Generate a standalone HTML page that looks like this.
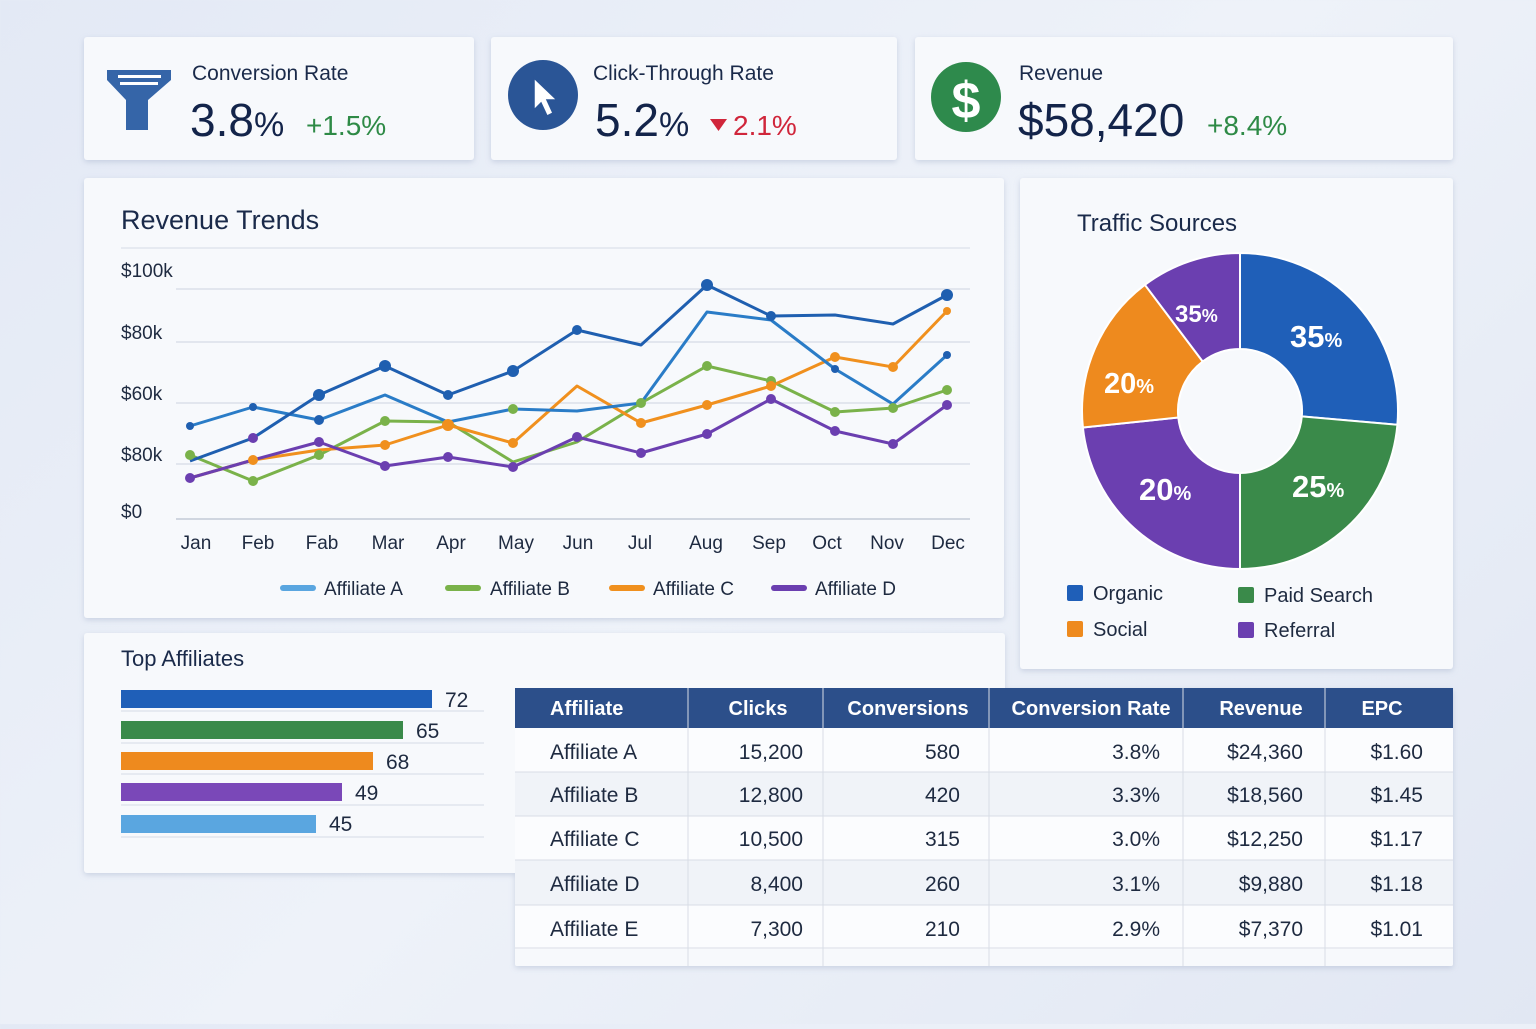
<!DOCTYPE html>
<html><head><meta charset="utf-8"><style>
body{margin:0;width:1536px;height:1024px;overflow:hidden;background:linear-gradient(135deg,#e3e9f5,#eef2f9 50%,#e1e7f3);font-family:"Liberation Sans",sans-serif}
svg text{font-family:"Liberation Sans",sans-serif}
</style></head><body>
<svg width="1536" height="1024" viewBox="0 0 1536 1024" xmlns="http://www.w3.org/2000/svg">
<defs><filter id="sh" x="-5%" y="-5%" width="110%" height="115%"><feDropShadow dx="0" dy="2" stdDeviation="3" flood-color="#8a9bbb" flood-opacity="0.35"/></filter></defs>
<g filter="url(#sh)" fill="#f7f9fc">
<rect x="84" y="37" width="390" height="123" rx="3"/>
<rect x="491" y="37" width="406" height="123" rx="3"/>
<rect x="915" y="37" width="538" height="123" rx="3"/>
<rect x="84" y="178" width="920" height="440" rx="3"/>
<rect x="1020" y="178" width="433" height="491" rx="3"/>
<rect x="84" y="633" width="921" height="240" rx="3"/>
<rect x="515" y="688" width="938" height="278" rx="2"/>
</g>
<!-- KPI 1 -->
<path d="M107 70 H171 V80 L148 100 V130 H126 V100 L107 80Z" fill="#3565a8"/>
<rect x="118" y="75" width="43" height="3" fill="#fff"/><rect x="120" y="82" width="38" height="3" fill="#fff"/>
<text x="192" y="80" font-size="21" fill="#1a2a4a">Conversion Rate</text>
<text x="190" y="136" font-size="46" fill="#13244a">3.8<tspan font-size="34">%</tspan></text>
<text x="306" y="135" font-size="28" fill="#2e8a46">+1.5%</text>
<!-- KPI 2 -->
<circle cx="543" cy="95" r="35" fill="#2a5596"/>
<path d="M534 78 L534 110 L541 103 L547 116 L553 113 L547 100 L557 100Z" fill="#fff" stroke="#2a5596" stroke-width="1.5"/>
<text x="593" y="80" font-size="21" fill="#1a2a4a">Click-Through Rate</text>
<text x="595" y="136" font-size="46" fill="#13244a">5.2<tspan font-size="34">%</tspan></text>
<path d="M710 119 H727 L718.5 131Z" fill="#d0263b"/>
<text x="733" y="135" font-size="28" fill="#d0263b">2.1%</text>
<!-- KPI 3 -->
<circle cx="966" cy="97" r="35" fill="#2e8a4c"/>
<text x="966" y="118" font-size="52" font-weight="bold" fill="#fff" text-anchor="middle">$</text>
<text x="1019" y="80" font-size="21" fill="#1a2a4a">Revenue</text>
<text x="1018" y="136" font-size="46" fill="#13244a">$58,420</text>
<text x="1207" y="135" font-size="28" fill="#2e8a46">+8.4%</text>
<!-- Revenue Trends -->
<text x="121" y="229" font-size="27" fill="#1a2a4a">Revenue Trends</text>
<line x1="121" y1="248" x2="970" y2="248" stroke="#d5dbe6"/>
<g stroke="#d5dbe6" stroke-width="1.2">
<line x1="176" y1="289" x2="970" y2="289"/><line x1="176" y1="342" x2="970" y2="342"/>
<line x1="176" y1="403" x2="970" y2="403"/><line x1="176" y1="464" x2="970" y2="464"/>
<line x1="176" y1="519" x2="970" y2="519" stroke="#b9c1d0"/></g>
<g font-size="19" fill="#1e2a40">
<text x="121" y="277">$100k</text><text x="121" y="339">$80k</text><text x="121" y="400">$60k</text><text x="121" y="461">$80k</text><text x="121" y="518">$0</text></g>
<g font-size="19" fill="#1e2a40" text-anchor="middle">
<text x="196" y="549">Jan</text><text x="258" y="549">Feb</text><text x="322" y="549">Fab</text><text x="388" y="549">Mar</text><text x="451" y="549">Apr</text><text x="516" y="549">May</text><text x="578" y="549">Jun</text><text x="640" y="549">Jul</text><text x="706" y="549">Aug</text><text x="769" y="549">Sep</text><text x="827" y="549">Oct</text><text x="887" y="549">Nov</text><text x="948" y="549">Dec</text></g>
<g fill="none" stroke-width="3" stroke-linejoin="round">
<polyline stroke="#7ab24a" points="190,455 253,481 319,455 385,421 448,422 513,462 577,442 641,403 707,366 771,381 835,412 893,408 947,390"/>
<polyline stroke="#f0901e" points="190,478 253,460 319,450 385,445 448,425 513,443 577,386 641,423 707,405 771,386 835,357 893,367 947,311"/>
<polyline stroke="#6b3fb0" points="190,478 253,460 319,442 385,466 448,457 513,467 577,437 641,453 707,434 771,399 835,431 893,444 947,405"/>
<polyline stroke="#2a7cc7" points="190,426 253,407 319,420 385,395 448,422 513,409 577,411 641,403 707,312 771,320 835,369 893,404 947,355"/>
<polyline stroke="#1f5fb0" points="190,461 253,438 319,395 385,366 448,395 513,371 577,330 641,345 707,285 771,316 835,315 893,324 947,295"/>
</g>
<g fill="#7ab24a"><circle cx="190" cy="455" r="5"/><circle cx="253" cy="481" r="5"/><circle cx="319" cy="455" r="5"/><circle cx="385" cy="421" r="5"/><circle cx="641" cy="403" r="5"/><circle cx="707" cy="366" r="5"/><circle cx="771" cy="381" r="5"/><circle cx="835" cy="412" r="5"/><circle cx="893" cy="408" r="5"/><circle cx="947" cy="390" r="5"/><circle cx="513" cy="409" r="5"/></g>
<g fill="#f0901e"><circle cx="253" cy="460" r="5"/><circle cx="385" cy="445" r="5"/><circle cx="448" cy="425" r="6"/><circle cx="513" cy="443" r="5"/><circle cx="641" cy="423" r="5"/><circle cx="707" cy="405" r="5"/><circle cx="771" cy="386" r="5"/><circle cx="835" cy="357" r="5"/><circle cx="893" cy="367" r="5"/><circle cx="947" cy="311" r="4"/></g>
<g fill="#6b3fb0"><circle cx="190" cy="478" r="5"/><circle cx="253" cy="438" r="5"/><circle cx="319" cy="442" r="5"/><circle cx="385" cy="466" r="5"/><circle cx="448" cy="457" r="5"/><circle cx="513" cy="467" r="5"/><circle cx="577" cy="437" r="5"/><circle cx="641" cy="453" r="5"/><circle cx="707" cy="434" r="5"/><circle cx="771" cy="399" r="5"/><circle cx="835" cy="431" r="5"/><circle cx="893" cy="444" r="5"/><circle cx="947" cy="405" r="5"/></g>
<g fill="#1f5fb0"><circle cx="319" cy="395" r="6"/><circle cx="385" cy="366" r="6"/><circle cx="448" cy="395" r="5"/><circle cx="513" cy="371" r="6"/><circle cx="577" cy="330" r="5"/><circle cx="707" cy="285" r="6"/><circle cx="771" cy="316" r="5"/><circle cx="947" cy="295" r="6"/><circle cx="190" cy="426" r="4"/><circle cx="253" cy="407" r="4"/><circle cx="319" cy="420" r="5"/><circle cx="835" cy="369" r="4"/><circle cx="947" cy="355" r="4"/></g>
<g font-size="19" fill="#1e2a40">
<rect x="280" y="585" width="36" height="6" rx="3" fill="#5aa6e0"/><text x="324" y="595">Affiliate A</text>
<rect x="445" y="585" width="36" height="6" rx="3" fill="#7ab24a"/><text x="490" y="595">Affiliate B</text>
<rect x="609" y="585" width="36" height="6" rx="3" fill="#f0901e"/><text x="653" y="595">Affiliate C</text>
<rect x="771" y="585" width="36" height="6" rx="3" fill="#6b3fb0"/><text x="815" y="595">Affiliate D</text></g>
<!-- Traffic -->
<text x="1077" y="231" font-size="24" fill="#1a2a4a">Traffic Sources</text>
<g stroke="#fff" stroke-width="2">
<path d="M1240 253 A158 158 0 0 1 1397.4 424.8 L1301.8 416.4 A62 62 0 0 0 1240 349Z" fill="#1f5fb8"/>
<path d="M1397.4 424.8 A158 158 0 0 1 1240 569 L1240 473 A62 62 0 0 0 1301.8 416.4Z" fill="#3a8a4a"/>
<path d="M1240 569 A158 158 0 0 1 1082.9 427.5 L1178.3 417.5 A62 62 0 0 0 1240 473Z" fill="#6b3fb0"/>
<path d="M1082.9 427.5 A158 158 0 0 1 1144.9 284.8 L1202.7 361.5 A62 62 0 0 0 1178.3 417.5Z" fill="#ee8a1e"/>
<path d="M1144.9 284.8 A158 158 0 0 1 1240 253 L1240 349 A62 62 0 0 0 1202.7 361.5Z" fill="#6b3fb0"/>
</g>
<g fill="#fff" font-weight="bold">
<text x="1175" y="322" font-size="24">35<tspan font-size="18">%</tspan></text>
<text x="1290" y="347" font-size="31">35<tspan font-size="20">%</tspan></text>
<text x="1292" y="497" font-size="31">25<tspan font-size="20">%</tspan></text>
<text x="1139" y="500" font-size="31">20<tspan font-size="20">%</tspan></text>
<text x="1104" y="393" font-size="29">20<tspan font-size="20">%</tspan></text></g>
<g font-size="20" fill="#1e2a40">
<rect x="1067" y="585" width="16" height="16" rx="2" fill="#1f5fb8"/><text x="1093" y="600">Organic</text>
<rect x="1238" y="587" width="16" height="16" rx="2" fill="#3a8a4a"/><text x="1264" y="602">Paid Search</text>
<rect x="1067" y="621" width="16" height="16" rx="2" fill="#ee8a1e"/><text x="1093" y="636">Social</text>
<rect x="1238" y="622" width="16" height="16" rx="2" fill="#6b3fb0"/><text x="1264" y="637">Referral</text></g>
<!-- Top affiliates -->
<text x="121" y="666" font-size="22" fill="#1a2a4a">Top Affiliates</text>
<g stroke="#d5dbe6"><line x1="121" y1="711" x2="484" y2="711"/><line x1="121" y1="743" x2="484" y2="743"/><line x1="121" y1="774" x2="484" y2="774"/><line x1="121" y1="805" x2="484" y2="805"/><line x1="121" y1="837" x2="484" y2="837"/></g>
<rect x="121" y="690" width="311" height="18" fill="#1f5fb8"/>
<rect x="121" y="721" width="282" height="18" fill="#3a8a4a"/>
<rect x="121" y="752" width="252" height="18" fill="#ee8a1e"/>
<rect x="121" y="783" width="221" height="18" fill="#7a48b8"/>
<rect x="121" y="815" width="195" height="18" fill="#5aa6e0"/>
<g font-size="21" fill="#1e2a40"><text x="445" y="707">72</text><text x="416" y="738">65</text><text x="386" y="769">68</text><text x="355" y="800">49</text><text x="329" y="831">45</text></g>
<!-- table -->
<rect x="515" y="688" width="938" height="40" fill="#2c4f8a"/>
<g fill="#fbfcfe"><rect x="515" y="728" width="938" height="44"/><rect x="515" y="816" width="938" height="44"/><rect x="515" y="905" width="938" height="44"/></g>
<g fill="#f0f3f8"><rect x="515" y="772" width="938" height="44"/><rect x="515" y="860" width="938" height="45"/></g>
<g stroke="#d8dde6"><line x1="515" y1="772" x2="1453" y2="772"/><line x1="515" y1="816" x2="1453" y2="816"/><line x1="515" y1="860" x2="1453" y2="860"/><line x1="515" y1="905" x2="1453" y2="905"/><line x1="515" y1="948" x2="1453" y2="948"/>
<line x1="688" y1="688" x2="688" y2="966"/><line x1="823" y1="688" x2="823" y2="966"/><line x1="989" y1="688" x2="989" y2="966"/><line x1="1183" y1="688" x2="1183" y2="966"/><line x1="1325" y1="688" x2="1325" y2="966"/></g>
<g font-size="20" fill="#fff" font-weight="bold"><text x="550" y="715">Affiliate</text><text x="758" y="715" text-anchor="middle">Clicks</text><text x="908" y="715" text-anchor="middle">Conversions</text><text x="1091" y="715" text-anchor="middle">Conversion Rate</text><text x="1261" y="715" text-anchor="middle">Revenue</text><text x="1382" y="715" text-anchor="middle">EPC</text></g>
<g font-size="21" fill="#1e2a40">
<g><text x="550" y="759">Affiliate A</text><text x="550" y="802">Affiliate B</text><text x="550" y="846">Affiliate C</text><text x="550" y="891">Affiliate D</text><text x="550" y="936">Affiliate E</text></g>
<g text-anchor="end"><text x="803" y="759">15,200</text><text x="803" y="802">12,800</text><text x="803" y="846">10,500</text><text x="803" y="891">8,400</text><text x="803" y="936">7,300</text>
<text x="960" y="759">580</text><text x="960" y="802">420</text><text x="960" y="846">315</text><text x="960" y="891">260</text><text x="960" y="936">210</text>
<text x="1160" y="759">3.8%</text><text x="1160" y="802">3.3%</text><text x="1160" y="846">3.0%</text><text x="1160" y="891">3.1%</text><text x="1160" y="936">2.9%</text>
<text x="1303" y="759">$24,360</text><text x="1303" y="802">$18,560</text><text x="1303" y="846">$12,250</text><text x="1303" y="891">$9,880</text><text x="1303" y="936">$7,370</text>
<text x="1423" y="759">$1.60</text><text x="1423" y="802">$1.45</text><text x="1423" y="846">$1.17</text><text x="1423" y="891">$1.18</text><text x="1423" y="936">$1.01</text></g></g>
</svg>
</body></html>
